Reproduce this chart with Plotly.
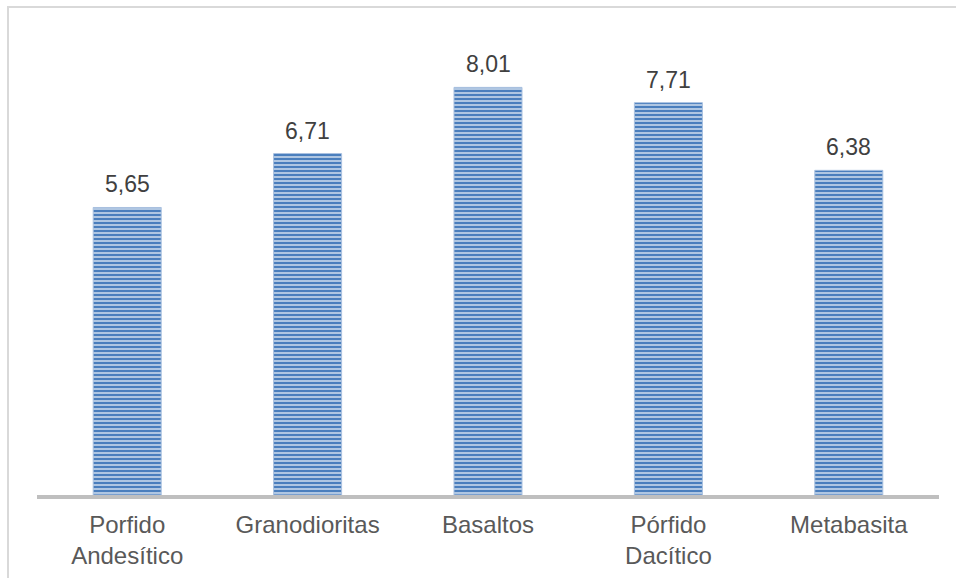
import plotly.graph_objects as go

# Rock types and their measured values
categories = ["Porfido<br>Andesítico", "Granodioritas", "Basaltos", "Pórfido<br>Dacítico", "Metabasita"]
values = [5.65, 6.71, 8.01, 7.71, 6.38]
value_labels = ["5,65", "6,71", "8,01", "7,71", "6,38"]

W, H = 956, 578
ml, mr, mt, mb = 37, 17, 37, 83
pw, ph = W - ml - mr, H - mt - mb

fig = go.Figure()
fig.add_trace(go.Bar(
    x=categories,
    y=values,
    marker=dict(
        color="#c9d8ec",
        line=dict(width=1, color="#a9c1e0"),
        pattern=dict(shape="-", size=4, solidity=0.6,
                     fgcolor="#4a7ebd", bgcolor="#c9d8ec", fillmode="replace"),
    ),
    hoverinfo="skip",
))

# Value labels above each bar
for c, v, t in zip(categories, values, value_labels):
    fig.add_annotation(x=c, y=v, text=t, showarrow=False, yanchor="bottom",
                       yshift=8, font=dict(family="Liberation Sans, Arial", size=23, color="#404040"))

# Chart-area border (light gray frame)
fig.add_shape(type="rect", xref="paper", yref="paper",
              x0=(8 - ml) / pw, x1=(W + 5 - ml) / pw,
              y0=(H - mb - (H + 5)) / ph, y1=(H - mb - 7) / ph,
              line=dict(color="#d9d9d9", width=2), fillcolor="rgba(0,0,0,0)", layer="below")

fig.update_layout(
    width=W, height=H,
    margin=dict(l=ml, r=mr, t=mt, b=mb, autoexpand=False),
    paper_bgcolor="white", plot_bgcolor="white",
    bargap=0.623,
    showlegend=False,
    font=dict(family="Liberation Sans, Arial", size=23, color="#595959"),
    xaxis=dict(showline=True, linecolor="#bfbfbf", linewidth=4, ticks="",
               ticklabelstandoff=5, automargin=False,
               tickfont=dict(size=24, color="#595959"), showgrid=False, zeroline=False,
               fixedrange=True),
    yaxis=dict(range=[0, 9], visible=False, showgrid=False, zeroline=False, fixedrange=True),
)

fig.write_html("out.html", config={"displayModeBar": False})
